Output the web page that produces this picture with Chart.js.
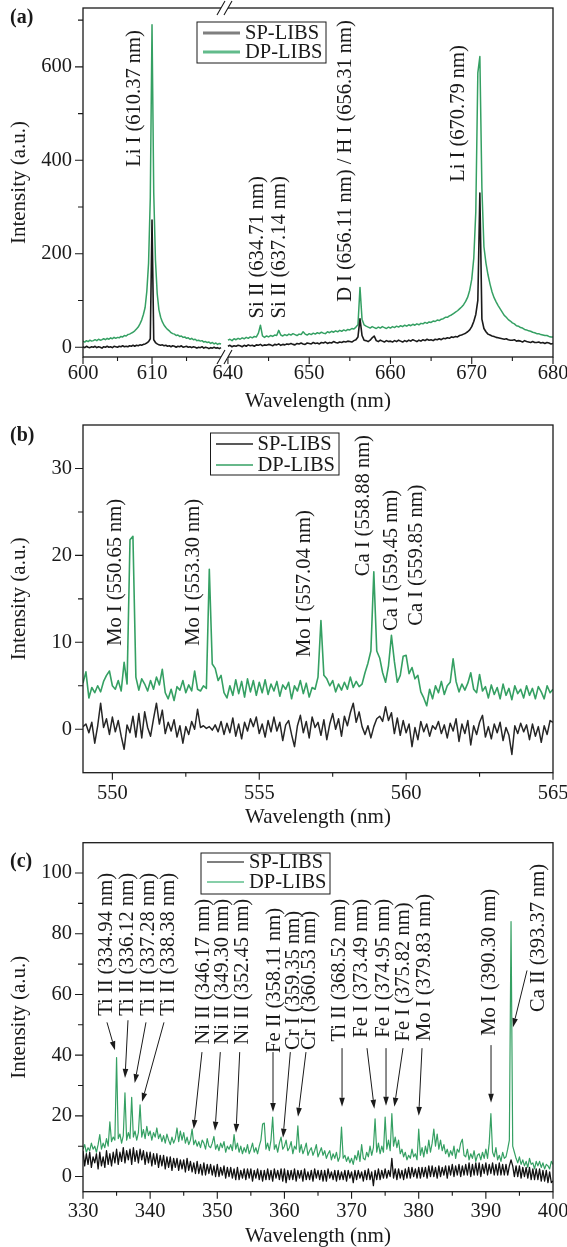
<!DOCTYPE html>
<html lang="en">
<head>
<meta charset="utf-8">
<title>SP-LIBS vs DP-LIBS spectra</title>
<script src="https://cdn.jsdelivr.net/npm/chart.js@4.4.1/dist/chart.umd.min.js"></script>
<style>
  html, body { margin: 0; padding: 0; background: #fff; }
  #page { position: relative; width: 567px; height: 1247px; overflow: hidden; }
  .panel { position: absolute; left: 0; width: 567px; }
  .tag { position: absolute; left: 10px; font: bold 20px/20px "Liberation Serif", "Times New Roman", serif; color: #1a1a1a; }
</style>
</head>
<body>
<div id="page">
  <div class="panel" style="top:0;height:415px"><canvas id="chart-a"></canvas></div>
  <div class="panel" style="top:415px;height:420px"><canvas id="chart-b"></canvas></div>
  <div class="panel" style="top:835px;height:412px"><canvas id="chart-c"></canvas></div>
  <div class="tag" style="top:6px">(a)</div>
  <div class="tag" style="top:424px">(b)</div>
  <div class="tag" style="top:850px">(c)</div>
</div>
<script>
// ── Panel (a): 600–620 nm and 640–680 nm, broken axis ──
const aLeftStart = 600, aLeftEnd = 620, aRightStart = 640, aStep = 0.25;
const aSpLeft = [
  1, -1, 2, 0, -1, 1, 0, 2,
  -1, 1, 0, -2, 1, 0, 2, 0,
  1, -1, 2, 1, 0, 2, 1, 3,
  1, 2, 1, 3, 2, 4, 2, 4,
  3, 5, 4, 6, 7, 9, 12, 18,
  272, 16, 10, 7, 5, 4, 5, 3,
  4, 2, 3, 1, 3, 2, 0, 2,
  1, 3, 0, 1, 2, 0, 1, -1,
  1, 0, -2, 0, -1, 1, -2, 0,
  -1, -3, -1, -2, 0, -2, -1, -3,
  -1,
];
const aDpLeft = [
  13, 11, 14, 12, 15, 13, 14, 16,
  14, 17, 15, 16, 18, 16, 19, 17,
  20, 18, 21, 19, 21, 20, 23, 22,
  25, 24, 27, 28, 30, 32, 35, 39,
  43, 50, 58, 70, 85, 120, 180, 320,
  690, 330, 186, 115, 80, 64, 54, 47,
  42, 38, 35, 31, 29, 28, 25, 26,
  23, 24, 21, 22, 19, 20, 17, 19,
  16, 17, 14, 15, 13, 14, 11, 12,
  10, 11, 8, 10, 7, 9, 6, 8,
  7,
];
const aSpRight = [
  2, 4, 1, 3, 2, 4, 3, 1,
  4, 2, 5, 3, 4, 2, 5, 4,
  6, 3, 5, 4, 6, 5, 3, 6,
  5, 7, 4, 6, 5, 7, 6, 8,
  6, 5, 8, 7, 9, 7, 6, 9,
  8, 7, 10, 8, 9, 7, 10, 9,
  11, 8, 10, 9, 12, 10, 9, 11,
  10, 12, 11, 13, 12, 11, 14, 16,
  22, 61, 25, 15, 14, 12, 15, 20,
  24, 14, 12, 15, 13, 11, 14, 12,
  13, 11, 14, 12, 15, 13, 11, 14,
  12, 15, 13, 16, 14, 12, 15, 13,
  16, 14, 17, 15, 16, 14, 17, 16,
  18, 16, 19, 18, 20, 19, 22, 21,
  23, 22, 25, 26, 28, 30, 33, 37,
  44, 55, 70, 100, 330, 60, 40, 33,
  28, 26, 24, 23, 21, 20, 19, 18,
  17, 18, 16, 15, 15, 16, 13, 14,
  13, 11, 14, 12, 11, 10, 12, 10,
  10, 11, 9, 10, 8, 10, 9, 7,
  8,
];
const aDpRight = [
  15, 17, 14, 18, 16, 19, 17, 20,
  18, 21, 19, 22, 20, 23, 22, 30,
  47, 24, 21, 24, 22, 25, 23, 26,
  25, 36, 26, 24, 27, 25, 28, 26,
  29, 27, 25, 28, 27, 33, 28, 26,
  29, 27, 30, 28, 31, 29, 32, 30,
  29, 33, 31, 34, 32, 35, 33, 36,
  34, 37, 35, 38, 37, 40, 39, 43,
  48, 128, 60, 48, 45, 43, 41, 44,
  42, 40, 43, 41, 44, 42, 40, 43,
  41, 44, 42, 45, 43, 46, 44, 47,
  45, 48, 46, 49, 47, 50, 48, 51,
  50, 53, 51, 54, 53, 56, 55, 58,
  57, 60, 61, 64, 64, 67, 69, 72,
  75, 78, 82, 86, 91, 98, 107, 122,
  145, 190, 290, 587, 622, 340, 215, 180,
  155, 135, 118, 106, 97, 89, 82, 75,
  68, 64, 59, 56, 52, 50, 46, 45,
  42, 41, 38, 37, 35, 34, 32, 31,
  29, 29, 27, 26, 25, 25, 23, 22,
  22,
];
const aXMajor = [600, 610, 640, 650, 660, 670, 680];
const aXMinor = [605, 615, 645, 655, 665, 675];
const aYMajor = [0, 200, 400, 600];
const aYMinor = [100, 300, 500, 700];
const aNotes = [
  { text: 'Li I (610.37 nm)', x: 607.5, y: 386 },
  { text: 'Si II (634.71 nm)', x: 643.6, y: 61.5 },
  { text: 'Si II (637.14 nm)', x: 646.4, y: 61.5 },
  { text: 'D I (656.11 nm) / H I (656.31 nm)', x: 654.45, y: 97 },
  { text: 'Li I (670.79 nm)', x: 668.35, y: 354 },
];

// ── Panel (b): 549–565 nm ──
const bStart = 549, bStep = 0.1;
const bSp = [
  0.3, 0.6, -0.4, 0.8, -1.6, 0.4, 3.0, 0.2, 1.2, -0.6,
  1.4, -0.3, 1.0, -0.8, -2.3, 0.5, -0.4, 1.5, -0.9, 1.8,
  -1.0, 2.0, 0.2, -0.8, 1.2, 3.0, 0.6, 2.2, -0.5, 0.8,
  -0.2, 1.1, -0.9, 0.4, -1.6, 0.3, -0.6, 0.9, 0.0, 2.3,
  0.2, 0.4, 0.1, 0.3, -0.1, 0.5, -0.3, 0.9, -0.6, 0.7,
  -0.4, 1.3, -0.8, 0.6, -1.1, 0.8, -0.2, 1.2, 0.3, 1.4,
  -0.5, 0.6, -0.9, 1.0, -0.3, 1.4, -0.2, 0.8, -1.3, 0.5,
  1.0, -0.6, -2.0, 0.4, 1.6, -0.4, 0.9, -1.0, 1.4, 0.2,
  0.8, -0.7, 1.1, -1.2, 0.6, 1.8, 0.0, 1.2, -0.8, 1.5,
  0.4, 1.9, 3.0, 0.8, 2.0, 0.3, -0.6, 0.4, -1.0, 0.3,
  1.2, 1.5, 0.9, 2.6, 1.0, 1.9, -0.5, 1.3, -0.7, 1.0,
  -0.4, 0.6, -2.0, 0.2, -1.2, 0.9, -0.3, 0.6, -0.8, 0.4,
  0.0, 0.9, -0.5, 0.5, -1.0, 0.7, -0.2, 1.2, -1.4, 0.6,
  -0.5, 1.0, -1.8, 0.4, -0.6, 0.8, 1.6, -0.9, 0.3, -1.1,
  0.6, -0.4, 0.8, -1.3, 0.2, -0.7, -2.9, 0.4, -0.5, 0.7,
  -0.3, 0.5, -1.2, 0.6, -0.8, 0.3, -1.5, 0.4, -0.6, 1.0,
  0.8,
];
const bDp = [
  5.3, 6.6, 3.6, 4.8, 4.2, 5.0, 4.3, 5.5, 6.2, 6.7,
  5.0, 4.6, 5.6, 4.4, 7.7, 5.2, 21.8, 22.2, 6.0, 4.5,
  5.8, 5.2, 4.4, 5.6, 4.6, 6.0, 5.1, 6.9, 4.2, 3.5,
  4.6, 3.3, 4.9, 4.5, 5.6, 4.2, 5.1, 4.4, 6.7, 4.6,
  4.4, 5.0, 4.7, 18.4, 7.5, 7.0, 5.6, 6.2, 4.2, 3.6,
  5.0, 3.9, 5.7, 4.1, 5.5, 3.7, 5.8, 4.3, 5.6, 3.9,
  5.4, 4.2, 5.7, 4.0, 5.2, 4.4, 5.5, 3.8, 5.1, 4.6,
  5.4, 3.5, 5.0, 4.4, 5.6, 4.1, 5.3, 3.7, 4.8, 4.6,
  6.0, 12.5, 6.2, 5.8, 5.0, 5.6, 4.3, 5.2, 4.5, 5.4,
  4.6, 6.0, 4.8, 5.5, 4.9, 5.2, 6.5, 7.6, 9.0, 18.1,
  9.0, 8.2, 6.5, 5.4, 7.3, 10.8, 7.8, 5.4, 6.2, 8.4,
  8.5, 6.4, 7.1, 5.8, 6.2, 4.3, 3.6, 2.7, 4.6, 3.5,
  5.0, 4.2, 5.5, 4.0, 5.0, 5.4, 8.1, 5.5, 4.3, 5.2,
  4.5, 5.3, 6.5, 4.6, 4.2, 6.3, 4.4, 4.9, 3.6, 5.1,
  4.0, 4.8, 3.5, 5.2, 3.9, 4.7, 3.4, 5.0, 4.1, 4.6,
  3.6, 5.0, 3.9, 4.7, 3.5, 4.9, 4.3, 3.5, 5.0, 4.2,
  4.6,
];
const bXMajor = [550, 555, 560, 565];
const bXMinor = [552.5, 557.5, 562.5];
const bYMajor = [0, 10, 20, 30];
const bYMinor = [5, 15, 25];
const bNotes = [
  { text: 'Mo I (550.65 nm)', x: 550.125, y: 9.6 },
  { text: 'Mo I (553.30 nm)', x: 552.78, y: 9.6 },
  { text: 'Mo I (557.04 nm)', x: 556.53, y: 8.3 },
  { text: 'Ca I (558.88 nm)', x: 558.55, y: 17.6 },
  { text: 'Ca I (559.45 nm)', x: 559.49, y: 11.3 },
  { text: 'Ca I (559.85 nm)', x: 560.35, y: 11.9 },
];

// ── Panel (c): 330–400 nm ──
const cStart = 330, cStep = 0.25;
const cDp = [
  9, 10.5, 8, 9.5,   8.5, 11, 9, 10,   8, 10.5, 13.8, 9,   11, 9.5, 12.5, 10,
  18, 11.5, 13, 12,   39.2, 12.5, 14, 11,   13.5, 27.6, 12, 14.5,   12.5, 26.1, 13, 15,
  12, 14.5, 23.6, 13,   15.5, 12.5, 16.5, 13.5,   15, 12, 14.5, 13,   16, 12.5, 14, 11.5,
  13.5, 11, 14, 12,   10.5, 13, 11, 12.5,   16, 11.5, 15, 12,   14.5, 11, 13, 10.5,
  12, 15.6, 10.5, 12,   10, 11.5, 9.5, 12,   11, 9, 12.5, 10,   9.5, 11, 13.2, 9,
  10.5, 8.5, 11, 9.5,   11.5, 8, 10, 9,   10.5, 8.5, 13.8, 9,   11, 8, 10, 7.5,
  9.5, 8, 10.5, 7.5,   9, 11, 8, 9.5,   7.5, 10, 12, 17.3,   17.6, 9, 11, 8.5,
  12, 19.6, 9, 10.5,   8, 11, 13, 9,   10, 12, 8.5, 9.5,   11.5, 7.5, 10, 9,
  16.7, 8, 10.5, 7.5,   9, 11, 7, 8.5,   9.5, 7, 8.5, 10.5,   6.5, 8, 9.5, 7,
  8.5, 6, 7.5, 8.5,   5.5, 7.5, 6, 8,   5, 6.5, 16.3, 6,   7, 5, 6.5, 4.5,
  6, 4, 7, 5.5,   8.5, 5, 10.5, 6,   5.5, 8, 6.5, 10,   7, 9.5, 19, 8,
  11, 7.5, 10, 8,   19.6, 9, 12, 8.5,   20.7, 10, 13, 9.5,   12, 7.5, 9, 6.5,
  8, 5.5, 7, 6,   9, 6.5, 7.5, 5.5,   15.6, 7, 9.5, 6.5,   10, 7.5, 12, 8,
  11, 15.6, 10, 14,   9, 12, 8.5, 10.5,   7.5, 9, 6.5, 8.5,   7, 10, 6, 9,
  8, 11, 12.3, 7,   6.5, 9, 5.5, 7.5,   6, 8.5, 5, 7,   7.5, 5.5, 8, 6,
  9, 6, 11, 20.7,   8, 6.5, 9.5, 5.5,   7, 5, 8, 6,   6.5, 9, 12, 84,
  10, 8, 6, 4.5,   6.5, 4, 5.5, 3.5,   5, 3, 6, 4,   4.5, 2.5, 5, 3.5,
  5, 3, 4.5, 2.5,   4, 3.5, 2.5, 5,
  4,
];
const cSp = [
  8.5, 3.5, 7.5, 4,   8, 3, 6.5, 4.5,   7.5, 2.5, 8, 3.5,   6.5, 3, 8.5, 4,
  7.5, 3.5, 8, 4.5,   9, 4, 8, 5,   9.5, 4.5, 8.5, 5.5,   9, 4, 9.5, 5,
  8.5, 4.5, 9, 5.5,   8.5, 4, 8, 4.5,   8, 3.5, 7.5, 4,   7.5, 3, 7, 3.5,
  7, 2.5, 6.5, 3,   6.5, 2, 6, 3,   6, 2, 5.5, 2.5,   5.5, 1.5, 6, 2,
  5, 1.5, 4.5, 1,   5, 1, 4, 0.5,   4.5, 0.5, 4, 1,   4, 0.5, 3.5, 0,
  4, 0, 3, 0.5,   3.5, -0.5, 3, 0,   3, -0.5, 2.5, -1,   3, -1, 2, -0.5,
  2.5, -1, 2.5, -0.5,   2.5, -1.5, 2, -0.5,   2.5, -1, 2, -1.5,   2, -1, 2.5, -1,
  2, -1.5, 2.5, -0.5,   2, -1, 2.5, -1.5,   2.5, -2, 2, -1,   2, -1, 2.5, -1.5,
  2, -0.5, 2, -1.5,   2.5, -1, 1.5, -1,   2, -1.5, 2.5, -0.5,   2, -1, 2, -1.5,
  2, -1.5, 2.5, -0.5,   1.5, -1, 2, -1.5,   2, -1, 1.5, -1,   2, -1.5, 2, -0.5,
  1.5, -2, 2, -1,   2, -0.5, 1.5, -1.5,   2, -1, 2.5, -1,   1.5, -3, 2, -1,
  2.5, -1, 2, -0.5,   2.5, -0.5, 2, 0,   6, -0.5, 2.5, -1,   2.5, -0.5, 2, -1,
  2.5, -0.5, 3, -0.5,   3, 0, 2.5, -0.5,   3, -0.5, 3, 0,   3, -0.5, 3.5, 0,
  3.5, 0, 3, -0.5,   3.5, 0, 3, 0.5,   3.5, -0.5, 3.5, 0.5,   4, 0, 3.5, 0.5,
  4, 0, 3.5, 0.5,   4, 0.5, 4.5, 0,   4, 0.5, 4.5, 0.5,   4.5, 0, 4, 1,
  4.5, 0.5, 4, 1,   4.5, 0.5, 4, 0.5,   4.5, 0.5, 4, 0.5,   4, 0.5, 3.5, 5.5,
  3.5, 0, 3.5, 0,   3.5, -0.5, 3, 0,   3, -0.5, 3, -1,   2.5, -1, 2.5, -1,
  2.5, -1.5, 2, -1.5,   2, -2, 1.5, -2,
  -1.5,
];
const cXMajor = [330, 340, 350, 360, 370, 380, 390, 400];
const cXMinor = [335, 345, 355, 365, 375, 385, 395];
const cYMajor = [0, 20, 40, 60, 80, 100];
const cYMinor = [10, 30, 50, 70, 90];
const cNotes = [
  { text: 'Ti II (334.94 nm)', x: 333.57, y: 100 },
  { text: 'Ti II (336.12 nm)', x: 336.70, y: 100 },
  { text: 'Ti II (337.28 nm)', x: 339.83, y: 100 },
  { text: 'Ti II (338.38 nm)', x: 342.81, y: 100 },
  { text: 'Ni II (346.17 nm)', x: 348.02, y: 91.5 },
  { text: 'Ni II (349.30 nm)', x: 350.85, y: 91.5 },
  { text: 'Ni II (352.45 nm)', x: 353.83, y: 91.5 },
  { text: 'Fe II (358.11 nm)', x: 358.60, y: 88.5 },
  { text: 'Cr I (359.35 nm)', x: 361.43, y: 87.5 },
  { text: 'Cr I (360.53 nm)', x: 363.81, y: 87.5 },
  { text: 'Ti II (368.52 nm)', x: 368.28, y: 91.5 },
  { text: 'Fe I (373.49 nm)', x: 371.55, y: 91.5 },
  { text: 'Fe I (374.95 nm)', x: 374.83, y: 91.5 },
  { text: 'Fe I (375.82 nm)', x: 377.81, y: 90.3 },
  { text: 'Mo I (379.83 nm)', x: 380.94, y: 93.1 },
  { text: 'Mo I (390.30 nm)', x: 390.62, y: 94.8 },
  { text: 'Ca II (393.37 nm)', x: 397.92, y: 103 },
];
const cArrows = [
  { from: [333.57, 50.8], to: [334.77, 41.6] },
  { from: [336.70, 51.5], to: [336.26, 32.5] },
  { from: [339.38, 50.8], to: [337.70, 30.8] },
  { from: [342.06, 50.8], to: [338.79, 24.6] },
  { from: [347.72, 41.0], to: [346.49, 15.7] },
  { from: [350.45, 41.0], to: [349.66, 15.1] },
  { from: [353.34, 41.0], to: [352.79, 14.4] },
  { from: [358.30, 41.0], to: [358.30, 21.3] },
  { from: [360.88, 41.0], to: [359.79, 12.8] },
  { from: [363.21, 41.0], to: [362.02, 19.7] },
  { from: [368.58, 42.3], to: [368.58, 23.0] },
  { from: [372.30, 42.3], to: [373.39, 22.3] },
  { from: [375.13, 42.3], to: [375.13, 23.3] },
  { from: [377.66, 42.3], to: [376.37, 23.0] },
  { from: [380.49, 42.3], to: [380.00, 20.0] },
  { from: [390.77, 43.3], to: [390.77, 24.3] },
  { from: [396.13, 67.9], to: [394.04, 49.2] },
];

// ── Estilo común ──
const fontFamily = '"Liberation Serif", "Times New Roman", serif';
const ink = '#1a1a1a';
const green = '#35a063';
const tickFont = { family: fontFamily, size: 20.5 };
const titleFont = { family: fontFamily, size: 21, lineHeight: 1 };
const noteFont = '20.5px ' + fontFamily;

// broken axis of (a): the right part is drawn a bit wider per nm
const aStretch = 1.1775;
const aGap = 1;
const aU = wl => wl <= aLeftEnd
  ? wl - aLeftStart
  : (aLeftEnd - aLeftStart) + aGap + (wl - aRightStart) * aStretch;

const same = v => v;
const grid = (start, step, vals, map = same) => vals.map((y, i) => ({ x: map(start + i * step), y }));
const tickList = (major, minor, map = same) => [
  ...major.map(v => ({ v: map(v), label: String(v) })),
  ...minor.map(v => ({ v: map(v), label: '' })),
].sort((p, q) => p.v - q.v);
const line = (label, data, color, width) => ({
  label, data, borderColor: color, borderWidth: width, pointRadius: 0, fill: false, spanGaps: false,
});

function frame(o) {
  return {
    id: 'frame',
    afterDatasetsDraw(chart) {
      const { ctx, chartArea: area, scales: { x, y } } = chart;
      const { left, right, top, bottom } = area;
      ctx.save();
      ctx.strokeStyle = ink;
      ctx.fillStyle = ink;
      ctx.lineWidth = 1.3;
      ctx.strokeRect(left, top, right - left, bottom - top);

      ctx.lineWidth = 1.1;
      ctx.beginPath();
      o.xTicks.forEach(t => {
        const px = x.getPixelForValue(t.v);
        ctx.moveTo(px, bottom);
        ctx.lineTo(px, bottom + (t.label ? 7 : 4));
      });
      o.yTicks.forEach(t => {
        const py = y.getPixelForValue(t.v);
        ctx.moveTo(left, py);
        ctx.lineTo(left - (t.label ? 8 : 5), py);
      });
      ctx.stroke();

      if (o.breakAt != null) {
        const bx = x.getPixelForValue(o.breakAt);
        [top, bottom].forEach(by => {
          ctx.fillStyle = '#fff';
          ctx.fillRect(bx - 3.5, by - 2, 7, 4);
          ctx.beginPath();
          [-3.5, 3.5].forEach(dx => {
            ctx.moveTo(bx + dx - 4, by + 7);
            ctx.lineTo(bx + dx + 4, by - 7);
          });
          ctx.stroke();
        });
        ctx.fillStyle = ink;
      }

      const lg = o.legend;
      ctx.lineWidth = 1;
      ctx.strokeStyle = ink;
      ctx.strokeRect(left + lg.x, top + lg.y, lg.w, lg.h);
      ctx.font = noteFont;
      ctx.textAlign = 'left';
      ctx.textBaseline = 'middle';
      chart.data.datasets.forEach((ds, i) => {
        const ry = top + lg.rows[i];
        ctx.strokeStyle = lg.colors[i];
        ctx.lineWidth = lg.width;
        ctx.beginPath();
        ctx.moveTo(left + lg.lineFrom, ry);
        ctx.lineTo(left + lg.lineTo, ry);
        ctx.stroke();
        ctx.fillText(ds.label, left + lg.textX, ry + 1);
      });

      ctx.textAlign = o.noteAnchor === 'end' ? 'right' : 'left';
      o.notes.forEach(n => {
        ctx.save();
        ctx.translate(x.getPixelForValue(n.x), y.getPixelForValue(n.y));
        ctx.rotate(-Math.PI / 2);
        ctx.fillText(n.text, 0, 0);
        ctx.restore();
      });

      ctx.strokeStyle = ink;
      ctx.lineWidth = 1;
      (o.arrows || []).forEach(a => {
        const x0 = x.getPixelForValue(a.from[0]), y0 = y.getPixelForValue(a.from[1]);
        const x1 = x.getPixelForValue(a.to[0]), y1 = y.getPixelForValue(a.to[1]);
        const ang = Math.atan2(y1 - y0, x1 - x0);
        const c = Math.cos(ang), s = Math.sin(ang);
        const hx = x1 - 9 * c, hy = y1 - 9 * s;
        ctx.beginPath();
        ctx.moveTo(x0, y0);
        ctx.lineTo(hx, hy);
        ctx.stroke();
        ctx.beginPath();
        ctx.moveTo(x1, y1);
        ctx.lineTo(hx + 2.8 * s, hy - 2.8 * c);
        ctx.lineTo(hx - 2.8 * s, hy + 2.8 * c);
        ctx.closePath();
        ctx.fill();
      });
      ctx.restore();
    },
  };
}

function spectrumChart(id, o) {
  return new Chart(document.getElementById(id), {
    type: 'line',
    data: { datasets: o.datasets },
    options: {
      responsive: true,
      maintainAspectRatio: false,
      animation: false,
      events: [],
      layout: { padding: { top: o.padTop, right: 14, bottom: 0, left: 0 } },
      elements: { point: { radius: 0 }, line: { tension: 0, borderJoinStyle: 'round' } },
      plugins: { legend: { display: false }, tooltip: { enabled: false } },
      scales: {
        x: {
          type: 'linear', min: o.xMin, max: o.xMax,
          afterBuildTicks: s => { s.ticks = o.xTicks.map(t => ({ value: t.v })); },
          afterFit: s => { s.height = o.xAxisH; s.paddingLeft = 0; s.paddingRight = 0; },
          ticks: {
            autoSkip: false, maxRotation: 0, padding: o.xLabelPad, color: ink, font: tickFont,
            callback: (v, i) => (o.xTicks[i] ? o.xTicks[i].label : ''),
          },
          grid: { display: false, drawTicks: false },
          border: { display: false },
          title: { display: true, text: 'Wavelength (nm)', color: ink, font: titleFont, padding: { top: 0, bottom: o.xTitlePad } },
        },
        y: {
          type: 'linear', min: o.yMin, max: o.yMax,
          afterBuildTicks: s => { s.ticks = o.yTicks.map(t => ({ value: t.v })); },
          afterFit: s => { s.width = 83; s.paddingTop = 0; s.paddingBottom = 0; },
          ticks: {
            autoSkip: false, padding: 11, color: ink, font: tickFont,
            callback: (v, i) => (o.yTicks[i] ? o.yTicks[i].label : ''),
          },
          grid: { display: false, drawTicks: false },
          border: { display: false },
          title: { display: true, text: 'Intensity (a.u.)', color: ink, font: titleFont, padding: { top: 8.5, bottom: 0 } },
        },
      },
    },
    plugins: [frame(o)],
  });
}

// ── (a) ──
const aGapPoint = { x: (aLeftEnd - aLeftStart) + aGap / 2, y: null };
spectrumChart('chart-a', {
  datasets: [
    line('SP-LIBS', [...grid(aLeftStart, aStep, aSpLeft, aU), aGapPoint, ...grid(aRightStart, aStep, aSpRight, aU)], ink, 1.6),
    line('DP-LIBS', [...grid(aLeftStart, aStep, aDpLeft, aU), aGapPoint, ...grid(aRightStart, aStep, aDpRight, aU)], green, 1.5),
  ],
  xMin: aU(600), xMax: aU(680), yMin: -21, yMax: 726,
  xTicks: tickList(aXMajor, aXMinor, aU), yTicks: tickList(aYMajor, aYMinor),
  padTop: 8, xAxisH: 58, xLabelPad: 4, xTitlePad: 2.8,
  breakAt: aGapPoint.x,
  legend: { x: 114, y: 14, w: 129, h: 41, rows: [25, 44], lineFrom: 120, lineTo: 157, textX: 162, colors: ['#7f7f7f', '#62bb8b'], width: 3 },
  notes: aNotes.map(n => ({ ...n, x: aU(n.x) })), noteAnchor: 'start',
});

// ── (b) ──
spectrumChart('chart-b', {
  datasets: [
    line('SP-LIBS', grid(bStart, bStep, bSp), '#262626', 1.5),
    line('DP-LIBS', grid(bStart, bStep, bDp), green, 1.6),
  ],
  xMin: 549, xMax: 565, yMin: -5, yMax: 35,
  xTicks: tickList(bXMajor, bXMinor), yTicks: tickList(bYMajor, bYMinor),
  padTop: 10, xAxisH: 62.3, xLabelPad: 9, xTitlePad: 7.2,
  legend: { x: 127.5, y: 8, w: 128.5, h: 42, rows: [19, 40], lineFrom: 133, lineTo: 170, textX: 174.5, colors: ['#222', green], width: 1.6 },
  notes: bNotes, noteAnchor: 'start',
});

// ── (c) ──
spectrumChart('chart-c', {
  datasets: [
    line('SP-LIBS', grid(cStart, cStep, cSp), '#111', 1.3),
    line('DP-LIBS', grid(cStart, cStep, cDp), green, 1.2),
  ],
  xMin: 330, xMax: 400, yMin: -5, yMax: 110,
  xTicks: tickList(cXMajor, cXMinor), yTicks: tickList(cYMajor, cYMinor),
  padTop: 7.7, xAxisH: 55.3, xLabelPad: 8, xTitlePad: 0,
  legend: { x: 118, y: 10.3, w: 129, h: 41, rows: [19.3, 39.3], lineFrom: 124, lineTo: 161, textX: 166, colors: ['#555', '#5fbf8c'], width: 1.5 },
  notes: cNotes, noteAnchor: 'end', arrows: cArrows,
});
</script>
</body>
</html>
